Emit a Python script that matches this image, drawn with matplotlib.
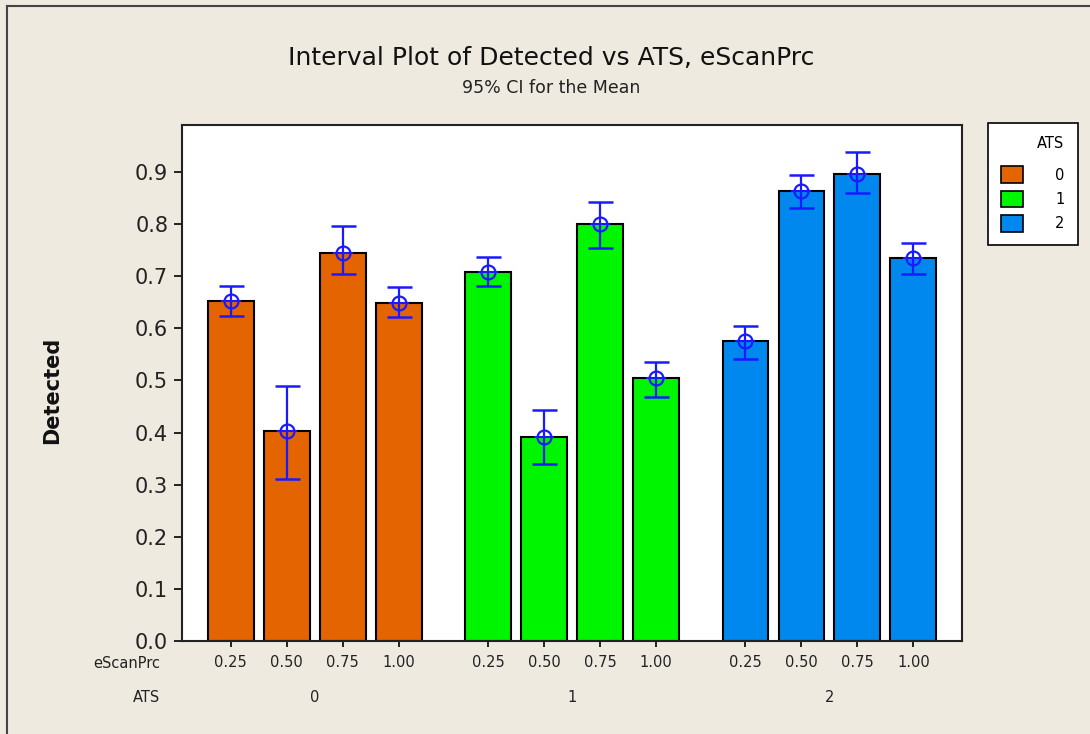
import matplotlib
matplotlib.use("Agg")
import matplotlib.pyplot as plt
from matplotlib.lines import Line2D
from matplotlib.patches import Patch
import numpy as np

ats_levels = ["0", "1", "2"]
escan_labels = ["0.25", "0.50", "0.75", "1.00"]
means = [
    [0.652, 0.402, 0.744, 0.649],
    [0.708, 0.392, 0.800, 0.505],
    [0.576, 0.863, 0.896, 0.734],
]
ci_low = [
    [0.624, 0.310, 0.704, 0.621],
    [0.682, 0.340, 0.754, 0.468],
    [0.542, 0.830, 0.860, 0.704],
]
ci_high = [
    [0.682, 0.490, 0.796, 0.679],
    [0.737, 0.443, 0.842, 0.535],
    [0.605, 0.894, 0.939, 0.764],
]
colors = ["#E36400", "#00F500", "#0088EE"]

bg = "#EEEAE0"
fig = plt.figure(figsize=(10.9, 7.34), dpi=100, facecolor=bg)
ax = fig.add_axes([0.167, 0.1267, 0.7156, 0.703])
ax.set_facecolor("white")

group_step = 4.6
xs_all = []
for g in range(3):
    xs = np.arange(4) + g * group_step
    xs_all.extend(xs)
    ax.bar(xs, means[g], width=0.82, color=colors[g], edgecolor="black", linewidth=1.5, zorder=2)
    m = np.array(means[g])
    lo = m - np.array(ci_low[g])
    hi = np.array(ci_high[g]) - m
    ax.errorbar(xs, m, yerr=[lo, hi], fmt="none", ecolor="#1A1AFF", elinewidth=1.6,
                capsize=9, capthick=1.8, zorder=3)
    ax.plot(xs, m, linestyle="none", marker="o", markersize=10, markerfacecolor="none",
            markeredgecolor="#1A1AFF", markeredgewidth=1.6, zorder=4)
    ax.plot(xs, m, linestyle="none", marker="+", markersize=14, markerfacecolor="none",
            markeredgecolor="#1A1AFF", markeredgewidth=1.4, zorder=4)

ax.set_xlim(-0.87, 2 * group_step + 3 + 0.87)
ax.set_ylim(0, 0.99)
ax.set_yticks(np.arange(0, 1.0, 0.1))
ax.set_yticklabels([f"{v:.1f}" for v in np.arange(0, 1.0, 0.1)], fontsize=15, color="#222222")
ax.tick_params(axis="y", length=6, width=1.2, direction="out", pad=4)
ax.set_xticks(xs_all)
ax.set_xticklabels([])
ax.tick_params(axis="x", length=4, width=1.2, direction="out")
for sp in ax.spines.values():
    sp.set_linewidth(1.5)
    sp.set_color("#222222")

# two-row x labels
for g in range(3):
    for j in range(4):
        x = j + g * group_step
        ax.text(x, -0.042, escan_labels[j], transform=ax.get_xaxis_transform(),
                ha="center", va="center", fontsize=10.5, color="#222222")
    ax.text(1.5 + g * group_step, -0.11, ats_levels[g], transform=ax.get_xaxis_transform(),
            ha="center", va="center", fontsize=10.5, color="#222222")
fig.text(0.147, 1 - 663 / 734, "eScanPrc", ha="right", va="center", fontsize=10.5, color="#222222")
fig.text(0.147, 1 - 698 / 734, "ATS", ha="right", va="center", fontsize=10.5, color="#222222")

fig.text(0.048, 1 - 390 / 734, "Detected", rotation=90, ha="center", va="center",
         fontsize=15, fontweight="bold", color="#111111")

fig.text(0.506, 1 - 58 / 734, "Interval Plot of Detected vs ATS, eScanPrc", ha="center",
         va="center", fontsize=18, color="#111111")
fig.text(0.506, 1 - 88 / 734, "95% CI for the Mean", ha="center", va="center",
         fontsize=12.5, color="#222222")

handles = [Patch(facecolor=c, edgecolor="black", linewidth=1.2) for c in colors]
leg = fig.legend(handles, ats_levels, title="ATS", loc="upper left",
                 bbox_to_anchor=(988 / 1090, 1 - 123 / 734), borderaxespad=0,
                 fontsize=10.5, title_fontsize=10.5,
                 frameon=True, fancybox=False, edgecolor="black", facecolor="white",
                 framealpha=1, handlelength=1.5, handleheight=1.4, markerfirst=True,
                 borderpad=0.9, labelspacing=0.5, handletextpad=2.2)
leg.get_frame().set_linewidth(1.2)
leg._legend_box.align = "right"
leg._legend_box.sep = 11

# screenshot border (top and left)
fig.add_artist(Line2D([7 / 1090, 1], [1 - 6 / 734, 1 - 6 / 734], color="#444444", linewidth=1.5,
                      transform=fig.transFigure))
fig.add_artist(Line2D([7 / 1090, 7 / 1090], [0, 1 - 6 / 734], color="#444444", linewidth=1.5,
                      transform=fig.transFigure))

fig.savefig("out.png", dpi=100, facecolor=bg)
